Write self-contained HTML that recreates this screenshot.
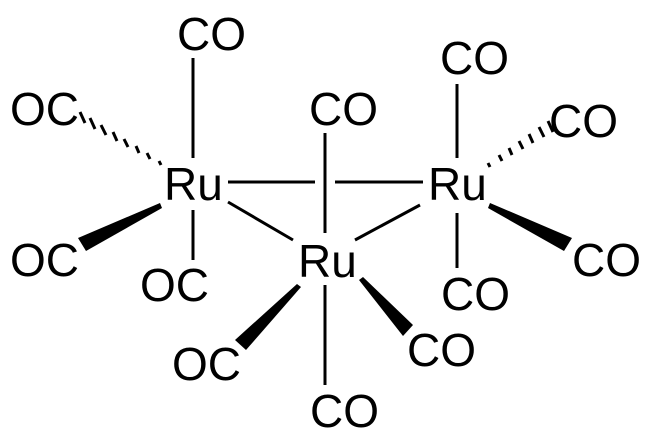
<!DOCTYPE html>
<html><head><style>
html,body{margin:0;padding:0;background:#fff;}
svg{display:block;}
text{font-family:"Liberation Sans",Arial,sans-serif;font-size:46px;fill:#000;}
</style></head><body>
<svg width="650" height="435" viewBox="0 0 650 435" xmlns="http://www.w3.org/2000/svg">
<g stroke="#000" stroke-width="3" fill="none">
<line x1="193" y1="58" x2="193" y2="158"/>
<line x1="228" y1="182" x2="315" y2="182"/>
<line x1="335" y1="182" x2="423" y2="182"/>
<line x1="325" y1="133" x2="325" y2="233"/>
<line x1="457" y1="84" x2="457" y2="158"/>
<line x1="228" y1="202" x2="293" y2="240"/>
<line x1="355" y1="240" x2="420" y2="205"/>
<line x1="193" y1="210" x2="193" y2="260"/>
<line x1="457" y1="213" x2="457" y2="268"/>
<line x1="325" y1="285" x2="325" y2="385"/>
</g>
<g stroke="#000" stroke-width="3">
<line x1="159" y1="161" x2="161" y2="165"/>
<line x1="147" y1="153" x2="150" y2="159"/>
<line x1="136" y1="146" x2="139" y2="153"/>
<line x1="124" y1="139" x2="128" y2="147"/>
<line x1="113" y1="132" x2="117" y2="141"/>
<line x1="101" y1="125" x2="106" y2="135"/>
<line x1="90" y1="118" x2="95" y2="129"/>
<line x1="80" y1="112" x2="85" y2="123"/>

<line x1="488" y1="163" x2="490" y2="167"/>
<line x1="499" y1="155" x2="502" y2="161"/>
<line x1="509" y1="148" x2="512" y2="155"/>
<line x1="519" y1="141" x2="523" y2="149"/>
<line x1="529" y1="134" x2="533" y2="143"/>
<line x1="539" y1="127" x2="544" y2="137"/>
<line x1="548" y1="121" x2="553" y2="132"/>
</g>
<g fill="#000">
<polygon points="160,203 162,208 86,251 78,238"/>
<polygon points="490,203 488,208 564,251 572,238"/>
<polygon points="297,284 301,287 246,350 235,340"/>
<polygon points="359,280 363,277 413,325 403,336"/>
</g>
<g>
<text x="177" y="50">CO</text>
<text x="10" y="125">OC</text>
<text x="309" y="125">CO</text>
<text x="440" y="74">CO</text>
<text x="549" y="137">CO</text>
<text x="164" y="200">Ru</text>
<text x="428" y="200">Ru</text>
<text x="298" y="277">Ru</text>
<text x="10" y="276">OC</text>
<text x="140" y="301">OC</text>
<text x="572" y="276">CO</text>
<text x="441" y="310">CO</text>
<text x="172" y="380">OC</text>
<text x="407" y="366">CO</text>
<text x="310" y="427">CO</text>
</g>
</svg>
</body></html>
